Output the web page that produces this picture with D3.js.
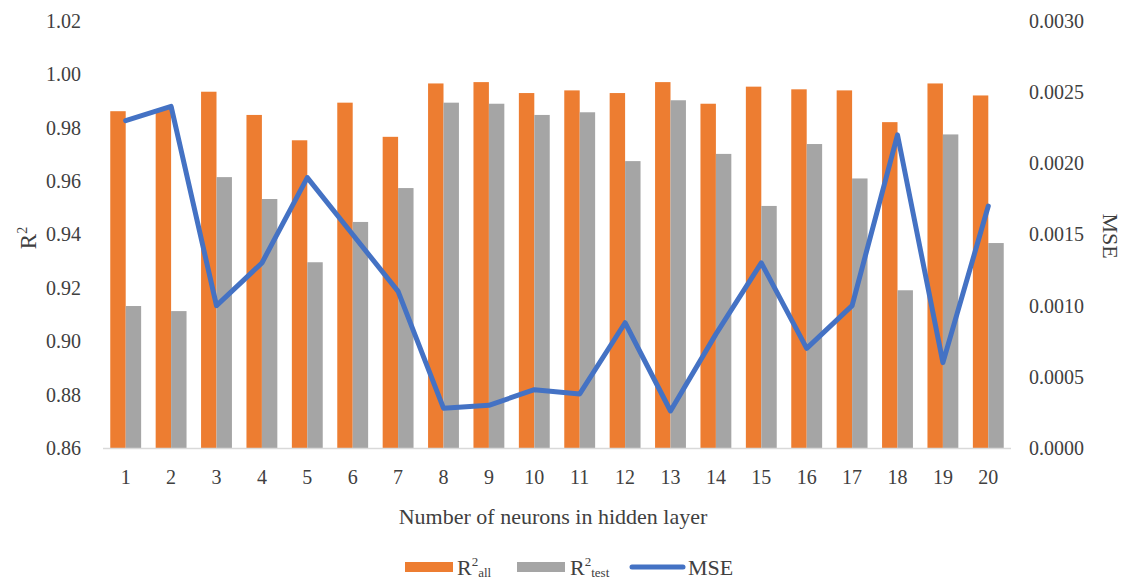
<!DOCTYPE html>
<html><head><meta charset="utf-8">
<script src="https://cdn.jsdelivr.net/npm/d3@7"></script>
<style>body{margin:0;background:#fff}svg{display:block}text{font-family:"Liberation Serif","Times New Roman",serif;fill:#404040}</style>
</head><body><svg id="c" width="1132" height="581"></svg>
<script>
const categories = ["1","2","3","4","5","6","7","8","9","10","11","12","13","14","15","16","17","18","19","20"];
const r2All  = [0.9862,0.9870,0.9935,0.9848,0.9753,0.9894,0.9766,0.9966,0.9971,0.9930,0.9940,0.9930,0.9971,0.9890,0.9954,0.9944,0.9940,0.9821,0.9966,0.9921];
const r2Test = [0.9132,0.9113,0.9615,0.9533,0.9296,0.9447,0.9574,0.9894,0.9890,0.9848,0.9858,0.9675,0.9903,0.9702,0.9507,0.9739,0.9610,0.9191,0.9775,0.9368];
const mse    = [0.0023,0.0024,0.0010,0.0013,0.0019,0.0015,0.0011,0.00028,0.00030,0.00041,0.00038,0.00088,0.00026,0.00080,0.0013,0.0007,0.0010,0.0022,0.0006,0.0017];
const leftTicks = [0.86,0.88,0.90,0.92,0.94,0.96,0.98,1.00,1.02];
const rightTicks = [0,0.0005,0.0010,0.0015,0.0020,0.0025,0.0030];

const svg = d3.select("#c");
const L = 103, R = 1011, T = 21, B = 448;
const x = d3.scaleBand().domain(categories).range([L, R]).paddingInner(0.32).paddingOuter(0.16);
const xs = d3.scaleBand().domain(["all","test"]).range([0, x.bandwidth()]);
const yL = d3.scaleLinear().domain([0.86, 1.02]).range([B, T]);
const yR = d3.scaleLinear().domain([0, 0.003]).range([B, T]);
const fs = 20;

// bars
const g = svg.append("g");
categories.forEach((c, i) => {
  g.append("rect").attr("x", x(c) + xs("all")).attr("width", xs.bandwidth())
    .attr("y", yL(r2All[i])).attr("height", yL(0.86) - yL(r2All[i])).attr("fill", "#ED7D31");
  g.append("rect").attr("x", x(c) + xs("test")).attr("width", xs.bandwidth())
    .attr("y", yL(r2Test[i])).attr("height", yL(0.86) - yL(r2Test[i])).attr("fill", "#A5A5A5");
});

// x axis line
svg.append("line").attr("x1", L).attr("x2", R).attr("y1", B + 0.5).attr("y2", B + 0.5)
  .attr("stroke", "#D9D9D9").attr("stroke-width", 1.5);

// MSE line
const line = d3.line().x((d, i) => x(categories[i]) + x.bandwidth() / 2).y(d => yR(d));
svg.append("path").datum(mse).attr("d", line).attr("fill", "none")
  .attr("stroke", "#4472C4").attr("stroke-width", 5).attr("stroke-linejoin", "round").attr("stroke-linecap", "round");

// axes
const axL = d3.axisLeft(yL).tickValues(leftTicks).tickFormat(d3.format(".2f")).tickSize(0).tickPadding(0);
const gl = svg.append("g").attr("transform", `translate(${L - 22},0)`).call(axL);
gl.select(".domain").remove();
gl.selectAll("text").attr("font-size", fs).attr("font-family", "Liberation Serif").attr("fill", "#404040");

const axR = d3.axisRight(yR).tickValues(rightTicks).tickFormat(d3.format(".4f")).tickSize(0).tickPadding(0);
const gr = svg.append("g").attr("transform", `translate(${R + 18},0)`).call(axR);
gr.select(".domain").remove();
gr.selectAll("text").attr("font-size", fs).attr("font-family", "Liberation Serif").attr("fill", "#404040");

const axB = d3.axisBottom(x).tickSize(0).tickPadding(22);
const gb = svg.append("g").attr("transform", `translate(0,${B})`).call(axB);
gb.select(".domain").remove();
gb.selectAll("text").attr("font-size", fs).attr("font-family", "Liberation Serif").attr("fill", "#404040");

// titles
svg.append("text").attr("x", 553).attr("y", 524).attr("text-anchor", "middle").attr("font-size", 22)
  .text("Number of neurons in hidden layer");
const lt = svg.append("text").attr("transform", "translate(36,238) rotate(-90)").attr("text-anchor", "middle").attr("font-size", 23);
lt.append("tspan").text("R");
lt.append("tspan").attr("font-size", 14).attr("dy", -9).text("2");
svg.append("text").attr("transform", "translate(1103,236) rotate(90)").attr("text-anchor", "middle").attr("font-size", 22).text("MSE");

// legend
const ly = 567;
svg.append("rect").attr("x", 405).attr("y", ly - 5).attr("width", 48).attr("height", 10).attr("fill", "#ED7D31");
const t1 = svg.append("text").attr("x", 457).attr("y", ly + 8).attr("font-size", 22);
t1.append("tspan").text("R");
t1.append("tspan").attr("font-size", 13).attr("dy", -9).text("2");
t1.append("tspan").attr("font-size", 13).attr("dy", 11).text("all");
svg.append("rect").attr("x", 517).attr("y", ly - 5).attr("width", 48).attr("height", 10).attr("fill", "#A5A5A5");
const t2 = svg.append("text").attr("x", 570).attr("y", ly + 8).attr("font-size", 22);
t2.append("tspan").text("R");
t2.append("tspan").attr("font-size", 13).attr("dy", -9).text("2");
t2.append("tspan").attr("font-size", 13).attr("dy", 11).text("test");
svg.append("line").attr("x1", 632).attr("x2", 683).attr("y1", ly).attr("y2", ly)
  .attr("stroke", "#4472C4").attr("stroke-width", 5).attr("stroke-linecap", "round");
svg.append("text").attr("x", 688).attr("y", ly + 8).attr("font-size", 22).text("MSE");
</script></body></html>
